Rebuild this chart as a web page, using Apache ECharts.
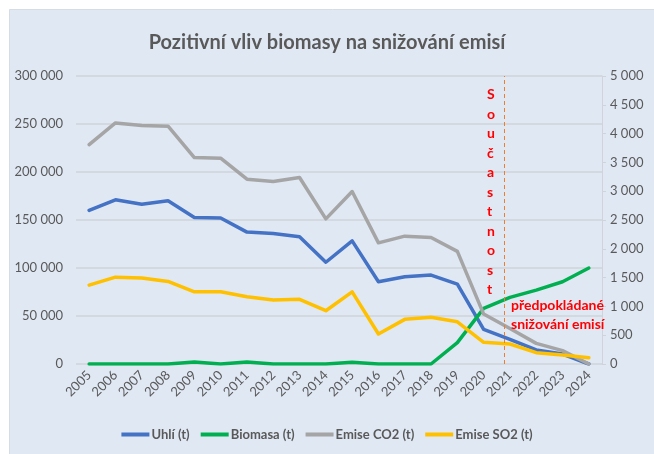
<!DOCTYPE html>
<html>
<head>
<meta charset="utf-8">
<script src="https://cdn.jsdelivr.net/npm/echarts@6/dist/echarts.min.js"></script>
<style>
html,body{margin:0;padding:0;background:#fff}
#c{width:654px;height:454px}
</style>
</head>
<body>
<div id="c"></div>
<script>
const years=["2005","2006","2007","2008","2009","2010","2011","2012","2013","2014","2015","2016","2017","2018","2019","2020","2021","2022","2023","2024"];
const uhli=[160000,171000,166500,170000,152600,152000,137400,136000,132500,106000,128300,85700,90900,92600,83200,36100,25700,14600,10400,0];
const biomasa=[0,0,0,0,2000,0,2000,0,0,0,1800,0,0,0,22200,58000,69400,77000,85700,100000];
const co2=[228600,251100,248400,247700,215100,214400,192500,190100,194300,151200,179700,126200,133200,131800,117300,52000,37000,21500,13900,0];
const so2=[1370,1508,1492,1433,1253,1253,1167,1110,1122,925,1253,520,775,810,733,377,347,197,157,110];
const nowMark=15.8;
const font="Lato, 'Noto Sans', sans-serif";
const grey="#595959";

const chart=echarts.init(document.querySelector("#c"));
const line=(name,data,color,yi)=>({
  name,type:"line",data,yAxisIndex:yi,symbol:"none",smooth:false,
  lineStyle:{color,width:3.5,cap:"round",join:"round"},itemStyle:{color}
});
const thousands=v=>String(v).replace(/\B(?=(\d{3})+(?!\d))/g," ");

chart.setOption({
  backgroundColor:"#fff",
  animation:false,
  textStyle:{fontFamily:font},
  title:{
    text:"Pozitivní vliv biomasy na snižování emisí",
    left:"center",top:28,
    textStyle:{fontFamily:font,fontSize:20,fontWeight:"bold",color:grey}
  },
  graphic:[
    {type:"rect",z:-10,shape:{x:9.5,y:9.5,width:660,height:460},
      style:{fill:"#E0E8F4",stroke:"#D6DCE5",lineWidth:1}},
    {type:"text",left:487,top:85,z:10,
      style:{text:"S\no\nu\nč\na\ns\nt\nn\no\ns\nt",fill:"#FF0000",
        font:"bold 14px "+font,lineHeight:19.5,align:"center"}},
    {type:"text",left:511,top:296,z:10,
      style:{text:"předpokládané\nsnižování emisí",fill:"#FF0000",
        font:"bold 14px "+font,lineHeight:19}}
  ],
  legend:{
    bottom:8,left:"center",itemWidth:28,itemHeight:4,itemGap:11,icon:"rect",
    textStyle:{fontFamily:font,fontSize:13,fontWeight:"bold",color:grey,padding:[0,0,0,-3]},
    data:["Uhlí (t)","Biomasa (t)","Emise CO2 (t)","Emise SO2 (t)"]
  },
  grid:{left:76,right:52,top:76,bottom:90,outerBoundsMode:"none",containLabel:false},
  xAxis:[{
    type:"category",data:years,boundaryGap:true,
    axisLine:{show:false},axisTick:{show:false},
    axisLabel:{rotate:45,color:grey,fontSize:13,margin:9,interval:0}
  },{
    type:"value",min:-0.5,max:19.5,show:false
  }],
  yAxis:[{
    type:"value",min:0,max:300000,interval:50000,
    axisLine:{show:false},axisTick:{show:false},
    splitLine:{lineStyle:{color:"#D0D4DA",width:1.5}},
    axisLabel:{color:grey,fontSize:13,margin:13,formatter:thousands}
  },{
    type:"value",min:0,max:5000,interval:500,position:"right",
    axisLine:{show:true,lineStyle:{color:"#D0D4DA",width:1}},
    axisTick:{show:true,length:4,lineStyle:{color:"#D0D4DA"}},
    splitLine:{show:false},
    axisLabel:{color:grey,fontSize:13,margin:8,formatter:thousands}
  }],
  series:[
    line("Uhlí (t)",uhli,"#4472C4",0),
    line("Biomasa (t)",biomasa,"#00B050",0),
    line("Emise CO2 (t)",co2,"#A5A5A5",0),
    line("Emise SO2 (t)",so2,"#FFC000",1),
    {type:"line",xAxisIndex:1,yAxisIndex:0,data:[[nowMark,0]],symbol:"none",
      lineStyle:{opacity:0},silent:true,
      markLine:{silent:true,symbol:"none",label:{show:false},
        lineStyle:{color:"#ED7D31",type:[4,3],width:1},
        data:[{xAxis:nowMark}]}}
  ]
});
</script>
</body>
</html>
